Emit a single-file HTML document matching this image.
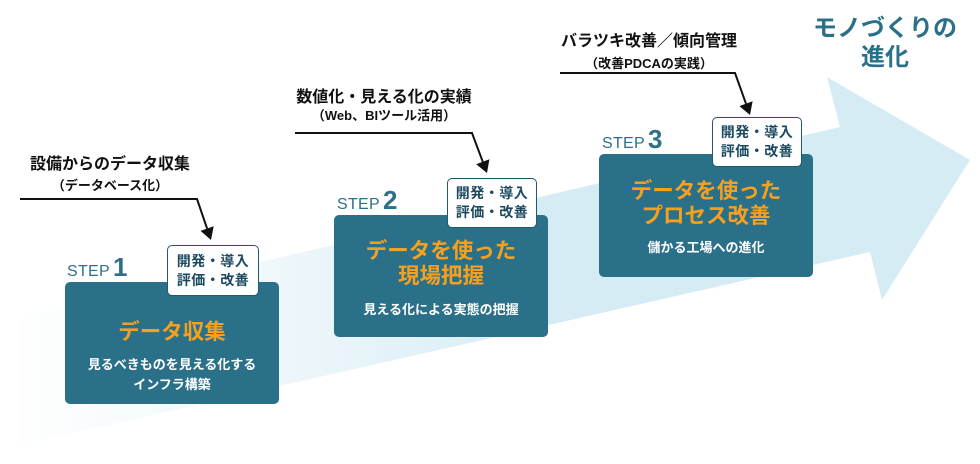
<!DOCTYPE html>
<html><head><meta charset="utf-8">
<style>
html,body{margin:0;padding:0;background:#fff;}
#c{position:relative;width:980px;height:464px;overflow:hidden;font-family:"Liberation Sans","Noto Sans CJK JP",sans-serif;}
.abs{position:absolute;}
.ann{position:absolute;text-align:center;color:#111;font-weight:bold;white-space:nowrap;}
.ann .a{font-size:16px;line-height:20px;}
.ann .b{font-size:13px;line-height:18px;}
.box{position:absolute;background:#2a7089;border-radius:5px;text-align:center;color:#fff;font-weight:bold;}
.tag{position:absolute;background:#fff;border:1.5px solid #1d5a70;border-radius:5px;box-sizing:border-box;display:flex;align-items:center;justify-content:center;text-align:center;color:#1b4a60;font-weight:bold;font-size:14px;line-height:19px;letter-spacing:0.5px;}
.title{position:absolute;left:0;width:100%;color:#f5a01e;font-size:21.5px;line-height:25px;font-weight:bold;}
.sub{position:absolute;left:0;width:100%;color:#fff;font-size:13px;line-height:20px;font-weight:bold;}
.step{position:absolute;color:#2e7089;white-space:nowrap;}
.step .s{font-size:16px;letter-spacing:0.3px;}
.step .n{font-size:26px;font-weight:bold;margin-left:3px;}
</style></head>
<body><div id="c">
<svg class="abs" style="left:0;top:0" width="980" height="464" viewBox="0 0 980 464">
<defs>
<linearGradient id="g" gradientUnits="userSpaceOnUse" x1="0" y1="0" x2="980" y2="0">
<stop offset="0" stop-color="#d6ecf4" stop-opacity="0"/>
<stop offset="0.3" stop-color="#d6ecf4" stop-opacity="0.45"/>
<stop offset="0.56" stop-color="#d6ecf4" stop-opacity="1"/>
<stop offset="1" stop-color="#d6ecf4" stop-opacity="1"/>
</linearGradient>
</defs>
<polygon points="20,318 840,127 827,77 970,160 882,300 870,252 20,445" fill="url(#g)"/>
<g stroke="#111" stroke-width="2" fill="none">
<polyline points="20,199 197,199 207.1,228.6"/>
<polyline points="295,133 472,133 482.8,161.8"/>
<polyline points="560,73 735,73 746,103.7"/>
</g>
<g fill="#111">
<polygon points="211,240 213.7,226.3 200.5,230.9"/>
<polygon points="487,173 489.4,159.3 476.2,164.3"/>
<polygon points="750,115 752.6,101.3 739.4,106.1"/>
</g>
</svg>

<div class="ann" style="left:20px;width:180px;top:155px;">
<div class="a">設備からのデータ収集</div>
<div class="b" style="margin-top:2px">（データベース化）</div>
</div>
<div class="ann" style="left:293px;width:182px;top:88px;">
<div class="a">数値化・見える化の実績</div>
<div class="b" style="margin-top:-1px">（Web、BIツール活用）</div>
</div>
<div class="ann" style="left:558px;width:182px;top:32px;">
<div class="a">バラツキ改善／傾向管理</div>
<div class="b" style="margin-top:3px">（改善PDCAの実践）</div>
</div>

<div class="abs" style="left:800px;width:170px;top:14px;text-align:center;color:#2b7089;font-weight:bold;font-size:24px;line-height:29px;">モノづくりの<br>進化</div>

<div class="step" style="left:67px;top:252px;"><span class="s">STEP</span><span class="n">1</span></div>
<div class="box" style="left:65px;top:282px;width:214px;height:122px;">
<div class="title" style="top:38px;">データ収集</div>
<div class="sub" style="top:73px;">見るべきものを見える化する<br>インフラ構築</div>
</div>
<div class="tag" style="left:167px;top:245px;width:92px;height:51px;">開発・導入<br>評価・改善</div>

<div class="step" style="left:337px;top:185px;"><span class="s">STEP</span><span class="n">2</span></div>
<div class="box" style="left:334px;top:215px;width:214px;height:122px;">
<div class="title" style="top:24px;">データを使った<br>現場把握</div>
<div class="sub" style="top:85px;">見える化による実態の把握</div>
</div>
<div class="tag" style="left:447px;top:178px;width:90px;height:50px;">開発・導入<br>評価・改善</div>

<div class="step" style="left:602px;top:124px;"><span class="s">STEP</span><span class="n">3</span></div>
<div class="box" style="left:599px;top:154px;width:214px;height:123px;">
<div class="title" style="top:25px;">データを使った<br>プロセス改善</div>
<div class="sub" style="top:84px;">儲かる工場への進化</div>
</div>
<div class="tag" style="left:712px;top:117px;width:90px;height:50px;">開発・導入<br>評価・改善</div>

</div></body></html>
